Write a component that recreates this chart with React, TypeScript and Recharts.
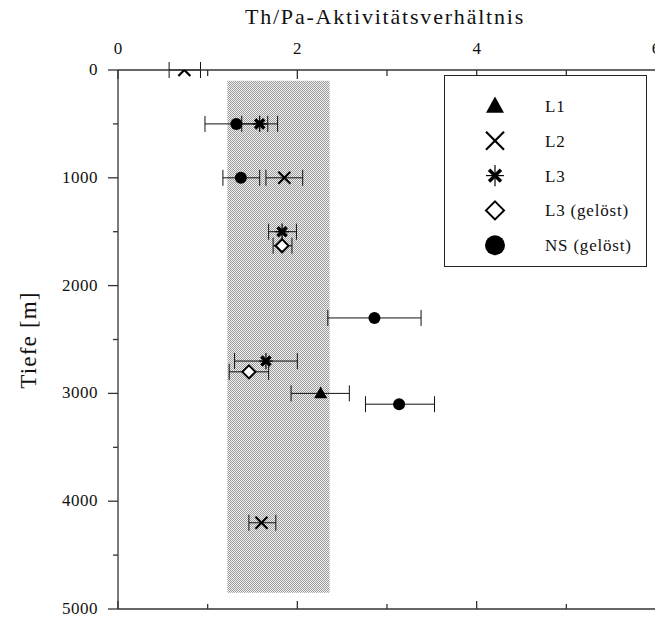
import React from 'react'
import { ScatterChart, Scatter, XAxis, YAxis, ErrorBar, ReferenceArea } from 'recharts'

// Tiefe [m] and Th/Pa ratio with lower/upper ends of the error bar
const depthL1 = [3000]
const ratioL1 = [2.26]
const lowL1 = [1.93]
const highL1 = [2.58]

const depthL2 = [0, 1000, 4200]
const ratioL2 = [0.74, 1.855, 1.6]
const lowL2 = [0.57, 1.65, 1.46]
const highL2 = [0.92, 2.06, 1.76]

const depthL3 = [500, 1500, 2700]
const ratioL3 = [1.58, 1.83, 1.65]
const lowL3 = [1.38, 1.68, 1.3]
const highL3 = [1.78, 1.99, 2.0]

const depthL3g = [1630, 2800]
const ratioL3g = [1.83, 1.46]
const lowL3g = [1.73, 1.24]
const highL3g = [1.94, 1.68]

const depthNS = [500, 1000, 2300, 3100]
const ratioNS = [1.32, 1.37, 2.86, 3.135]
const lowNS = [0.97, 1.17, 2.34, 2.76]
const highNS = [1.67, 1.58, 3.38, 3.53]

// shaded range of the ratio
const bandRatio = [1.22, 2.36]
const bandDepth = [100, 4850]

const xTicks = [0, 1, 2, 3, 4, 5, 6]
const yTicks = [0, 500, 1000, 1500, 2000, 2500, 3000, 3500, 4000, 4500, 5000]

const FONT = '"Liberation Serif", "Times New Roman", serif'
const AXIS = '#333'
const TOP = 70
const BOTTOM = 609
const LEFT = 118

type Kind = 'tri' | 'cross' | 'star' | 'diamond' | 'circle'

const pts = (depth: number[], ratio: number[], lo: number[], hi: number[]) =>
  depth.map((d, i) => ({ x: ratio[i], y: d, err: [ratio[i] - lo[i], hi[i] - ratio[i]] }))

const series: { name: string; kind: Kind; data: any[] }[] = [
  { name: 'L1', kind: 'tri', data: pts(depthL1, ratioL1, lowL1, highL1) },
  { name: 'L2', kind: 'cross', data: pts(depthL2, ratioL2, lowL2, highL2) },
  { name: 'L3', kind: 'star', data: pts(depthL3, ratioL3, lowL3, highL3) },
  { name: 'L3 (gelöst)', kind: 'diamond', data: pts(depthL3g, ratioL3g, lowL3g, highL3g) },
  { name: 'NS (gelöst)', kind: 'circle', data: pts(depthNS, ratioNS, lowNS, highNS) },
]

function marker(kind: Kind, cx: number, cy: number, s: number) {
  const h = s / 2
  switch (kind) {
    case 'tri':
      return <polygon points={`${cx},${cy - h * 1.05} ${cx - h},${cy + h * 0.75} ${cx + h},${cy + h * 0.75}`} fill="#000" />
    case 'cross':
      return (
        <g stroke="#000" strokeWidth={2.2}>
          <line x1={cx - h} y1={cy - h} x2={cx + h} y2={cy + h} />
          <line x1={cx - h} y1={cy + h} x2={cx + h} y2={cy - h} />
        </g>
      )
    case 'star':
      return (
        <g stroke="#000">
          <line x1={cx - h * 0.7} y1={cy - h * 0.7} x2={cx + h * 0.7} y2={cy + h * 0.7} strokeWidth={3.5} />
          <line x1={cx - h * 0.7} y1={cy + h * 0.7} x2={cx + h * 0.7} y2={cy - h * 0.7} strokeWidth={3.5} />
          <line x1={cx} y1={cy - h * 1.25} x2={cx} y2={cy + h * 1.25} strokeWidth={1.2} />
          <line x1={cx - h * 1.05} y1={cy} x2={cx + h * 1.05} y2={cy} strokeWidth={1.2} />
        </g>
      )
    case 'diamond':
      return <polygon points={`${cx},${cy - h} ${cx + h},${cy} ${cx},${cy + h} ${cx - h},${cy}`} fill="#fff" stroke="#000" strokeWidth={2} />
    default:
      return <circle cx={cx} cy={cy} r={h} fill="#000" />
  }
}

const plotSize: Record<Kind, number> = { tri: 13, cross: 12, star: 13, diamond: 13, circle: 12 }
const legendSize: Record<Kind, number> = { tri: 18, cross: 18, star: 17, diamond: 18, circle: 20 }

const TopTick = (p: any) => {
  const v = p.payload.value
  const major = v % 2 === 0
  return (
    <g>
      <line x1={p.x} x2={p.x} y1={TOP} y2={TOP + (major ? 9 : 6)} stroke={AXIS} strokeWidth={1.3} />
      {major && (
        <text x={p.x} y={54} textAnchor="middle" fontSize={17} fontFamily={FONT} fill="#111">
          {v}
        </text>
      )}
    </g>
  )
}

const BottomTick = (p: any) => {
  const major = p.payload.value % 2 === 0
  return <line x1={p.x} x2={p.x} y1={BOTTOM} y2={BOTTOM - (major ? 8 : 5)} stroke={AXIS} strokeWidth={1.3} />
}

const LeftTick = (p: any) => {
  const v = p.payload.value
  const major = v % 1000 === 0
  return (
    <g>
      <line x1={LEFT - (major ? 10 : 5)} x2={LEFT} y1={p.y} y2={p.y} stroke={AXIS} strokeWidth={1.3} />
      {major && (
        <text x={98} y={p.y + 5} textAnchor="end" fontSize={17} fontFamily={FONT} fill="#111" letterSpacing={0.5}>
          {v}
        </text>
      )}
    </g>
  )
}

export default function App() {
  return (
    <div style={{ position: 'relative', width: 655, height: 617, overflow: 'hidden', background: '#fff' }}>
      <style>{'body{margin:0}'}</style>
      <svg width={0} height={0} style={{ position: 'absolute' }}>
        <defs>
          <pattern id="dotpat" width={2} height={2} patternUnits="userSpaceOnUse">
            <rect width={2} height={2} fill="#f0f0f0" />
            <rect width={1} height={1} fill="#9c9c9c" />
            <rect x={1} y={1} width={1} height={1} fill="#9c9c9c" />
          </pattern>
        </defs>
      </svg>
      <div
        style={{
          position: 'absolute', left: 0, width: 770, top: 4, textAlign: 'center',
          fontFamily: FONT, fontSize: 22, letterSpacing: 1.8, color: '#111',
        }}
      >
        Th/Pa-Aktivitätsverhältnis
      </div>
      <div
        style={{
          position: 'absolute', left: 29, top: 340, transform: 'translate(-50%, -50%) rotate(-90deg)',
          fontFamily: FONT, fontSize: 23, letterSpacing: 1.2, whiteSpace: 'nowrap', color: '#111',
        }}
      >
        Tiefe [m]
      </div>
      <ScatterChart width={660} height={617} margin={{ top: 40, right: 4, bottom: 0, left: 58 }}>
        <XAxis
          xAxisId="top" orientation="top" type="number" dataKey="x" domain={[0, 6]} ticks={xTicks}
          interval={0} height={30} tickLine={false} axisLine={{ stroke: AXIS, strokeWidth: 1.3 }}
          tick={<TopTick />} allowDataOverflow
        />
        <XAxis
          xAxisId="bottom" orientation="bottom" type="number" dataKey="x" domain={[0, 6]} ticks={xTicks}
          interval={0} height={8} tickLine={false} axisLine={{ stroke: AXIS, strokeWidth: 1.3 }}
          tick={<BottomTick />} allowDataOverflow
        />
        <YAxis
          type="number" dataKey="y" domain={[0, 5000]} reversed ticks={yTicks} interval={0} width={60}
          tickLine={false} axisLine={{ stroke: AXIS, strokeWidth: 1.3 }} tick={<LeftTick />} allowDataOverflow
        />
        <ReferenceArea
          xAxisId="top" x1={bandRatio[0]} x2={bandRatio[1]} y1={bandDepth[0]} y2={bandDepth[1]}
          fill="url(#dotpat)" fillOpacity={1} stroke="none"
        />
        {series.map((s) => (
          <Scatter
            key={s.name} name={s.name} data={s.data} xAxisId="top" isAnimationActive={false}
            shape={(p: any) => marker(s.kind, p.cx, p.cy, plotSize[s.kind])}
          >
            <ErrorBar dataKey="err" direction="x" width={8} stroke="#111" strokeWidth={1} />
          </Scatter>
        ))}
      </ScatterChart>
      <div
        style={{
          position: 'absolute', left: 444, top: 75, width: 203, height: 192,
          border: '1px solid #222', background: '#fff', boxSizing: 'border-box',
        }}
      >
        <svg width={203} height={192} style={{ position: 'absolute', left: -1, top: -1 }}>
          {series.map((s, i) => (
            <g key={s.name}>
              {marker(s.kind, 51, 31 + i * 34.8, legendSize[s.kind])}
              <text
                x={101} y={31 + i * 34.8 + 6} fontSize={17} fontFamily={FONT} letterSpacing={0.8} fill="#111"
              >
                {s.name}
              </text>
            </g>
          ))}
        </svg>
      </div>
    </div>
  )
}
